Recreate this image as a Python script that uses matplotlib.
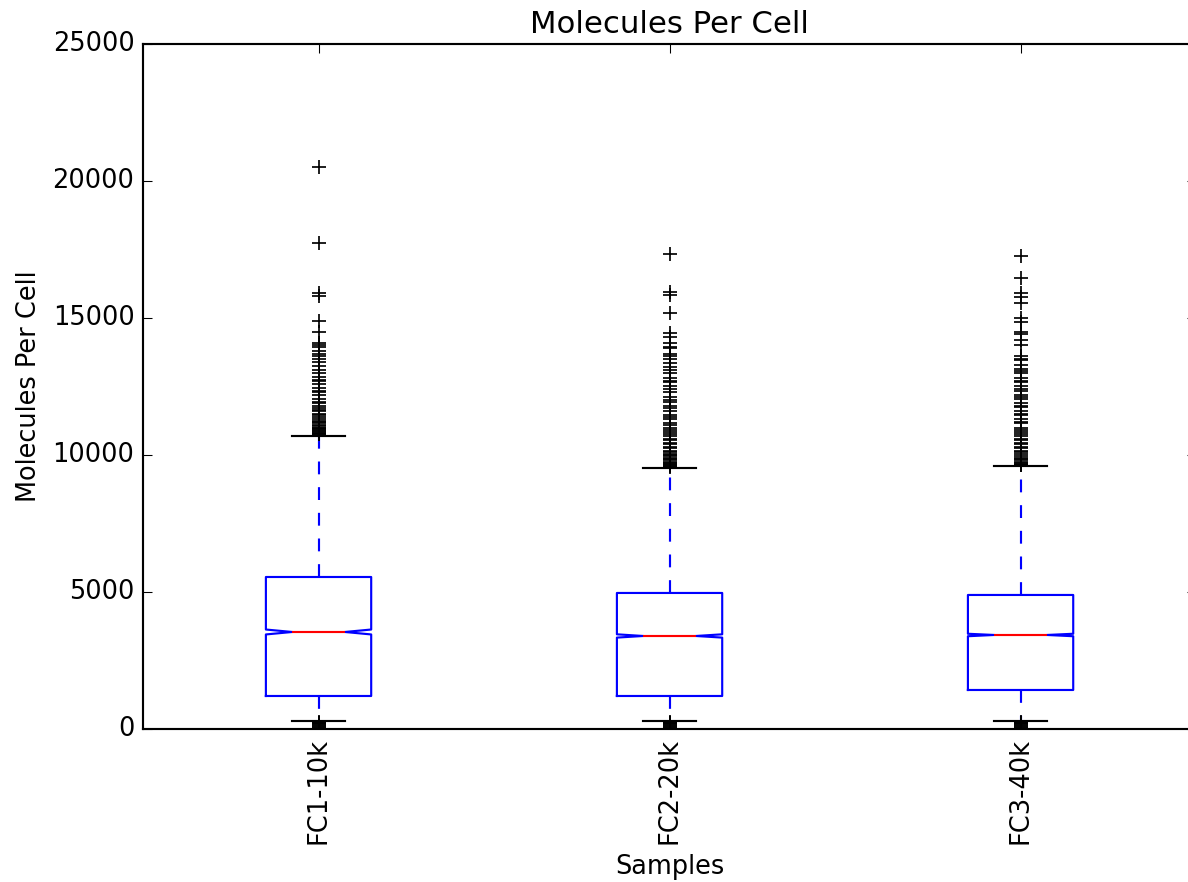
import matplotlib
matplotlib.use("Agg")
import matplotlib.pyplot as plt

plt.style.use("classic")

samples = ["FC1-10k", "FC2-20k", "FC3-40k"]
medians = [3540, 3394, 3431]
q1s = [1204, 1204, 1423]
q3s = [5547, 4964, 4891]
whis_lo = [292, 292, 292]
whis_hi = [10700, 9526, 9599]
ci_lo = [3450, 3335, 3385]
ci_hi = [3630, 3455, 3475]

fliers_fc1 = [20500, 17750, 15900, 15800, 14900, 14500, 14100, 14000, 13950, 13800,
              13700, 13600, 13500, 13400, 13250, 13100, 13000, 12850, 12750, 12700,
              12600, 12450, 12350, 12300, 12200, 12050, 11950, 11900, 11800, 11700,
              11650, 11600, 11500, 11450, 11400, 11300, 11250, 11200, 11150, 11100,
              11050, 11000, 10970, 10950, 10900, 10870, 10850, 10800, 10770, 10750,
              260, 230, 200, 180, 150, 120, 80, 40]
fliers_fc2 = [17350, 15950, 15850, 15200, 14450, 14300, 14100, 13950, 13900, 13700,
              13600, 13500, 13350, 13200, 13100, 13000, 12800, 12700, 12650, 12500,
              12400, 12300, 12100, 12000, 11950, 11800, 11700, 11600, 11450, 11400,
              11300, 11150, 11100, 11000, 10900, 10850, 10750, 10700, 10600, 10550,
              10450, 10400, 10300, 10250, 10150, 10100, 10050, 10000, 9950, 9900,
              9850, 9800, 9750, 9700, 9660, 9620, 9590, 9560,
              260, 230, 200, 180, 150, 120, 80, 40]
fliers_fc3 = [17250, 16450, 15900, 15750, 15550, 15000, 14850, 14500, 14400, 14200,
              14000, 13600, 13500, 13450, 13300, 13150, 13050, 13000, 12800, 12700,
              12650, 12500, 12400, 12350, 12200, 12100, 12050, 11900, 11800, 11750,
              11600, 11500, 11450, 11300, 11200, 11150, 11000, 10900, 10850, 10750,
              10700, 10600, 10550, 10450, 10400, 10300, 10250, 10150, 10100, 10050,
              9950, 9900, 9850, 9800, 9750, 9700, 9680, 9650, 9630,
              260, 230, 200, 180, 150, 120, 80, 40]
fliers_all = [fliers_fc1, fliers_fc2, fliers_fc3]

stats = []
for i, name in enumerate(samples):
    stats.append(dict(label=name, med=medians[i], q1=q1s[i], q3=q3s[i],
                      whislo=whis_lo[i], whishi=whis_hi[i],
                      cilo=ci_lo[i], cihi=ci_hi[i], fliers=fliers_all[i]))

DPI = 154
fig = plt.figure(figsize=(1188 / DPI, 882 / DPI), dpi=DPI, facecolor="white")
ax = fig.add_axes([0.1204, 0.1735, 0.8864, 0.7766])
ax.set_facecolor("white")

ax.bxp(stats, positions=[1, 2, 3], widths=0.3, shownotches=True,
       boxprops=dict(color="b", linewidth=1.0),
       whiskerprops=dict(color="b", linestyle="--", linewidth=1.0),
       capprops=dict(color="k", linewidth=1.0),
       medianprops=dict(color="r", linewidth=1.0),
       flierprops=dict(marker="+", markeredgecolor="k", markerfacecolor="k",
                       markersize=6.5, markeredgewidth=0.8, linestyle="none"))

ax.set_xlim(0.5, 3.5)
ax.set_ylim(0, 25000)
ax.set_yticks([0, 5000, 10000, 15000, 20000, 25000])
ax.set_xticks([1, 2, 3])
ax.set_xticklabels(samples, rotation=90)
ax.tick_params(labelsize=12)
ax.set_title("Molecules Per Cell", fontsize=14.4)
ax.set_xlabel("Samples", fontsize=12)
ax.set_ylabel("Molecules Per Cell", fontsize=12)

fig.savefig("out.png", dpi=DPI, facecolor="white")
